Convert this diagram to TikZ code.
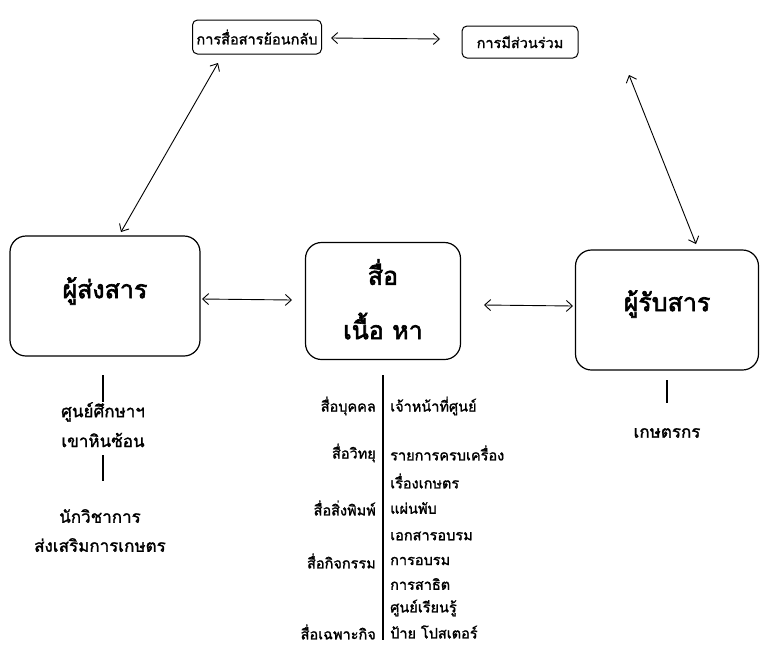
\documentclass[tikz,border=0pt]{standalone}
\usepackage{fontspec}
\newfontfamily\thai[Script=Thai,FakeBold=1.5]{Loma}
\newfontfamily\thaib[Script=Thai,FakeBold=2.5]{Loma}
\usetikzlibrary{arrows.meta}
\begin{document}
\begin{tikzpicture}[x=1pt,y=-1pt,
  every node/.style={font=\thai},
  small/.style={draw,line width=1pt,rounded corners=5pt,inner sep=0pt,font=\thai\fontsize{14.5}{16}\selectfont},
  big/.style={draw,line width=1.2pt,rounded corners=16pt,inner sep=0pt},
  lab/.style={font=\thaib\fontsize{25}{28}\selectfont},
  sub/.style={font=\thai\fontsize{17}{19}\selectfont,inner sep=0pt},
  msub/.style={font=\thai\fontsize{14.5}{17}\selectfont,inner sep=0pt},
  conn/.style={line width=0.9pt,{Straight Barb[length=6pt,width=11pt]}-{Straight Barb[length=6pt,width=11pt]}},
  tick/.style={line width=1.4pt}]
\useasboundingbox (0,0) rectangle (760,651);
% top boxes
\node[small,minimum width=129,minimum height=34] (fb) at (257,37) {การสื่อสารย้อนกลับ};
\node[small,minimum width=116,minimum height=32] (pa) at (520,42) {การมีส่วนร่วม};
% main boxes
\node[big,minimum width=190,minimum height=120] (snd) at (105,296) {};
\node[lab] (sndl) at (105,291) {ผู้ส่งสาร};
\node[big,minimum width=155,minimum height=117] (med) at (383,301) {};
\node[lab] (medl1) at (383,272) {สื่อ};
\node[lab] (medl2) at (383,326) {เนื้อ หา};
\node[big,minimum width=183,minimum height=120] (rcv) at (667,310) {};
\node[lab] (rcvl) at (667,304) {ผู้รับสาร};
% connectors
\coordinate (fbR) at (331,38); \coordinate (paL) at (440,39);
\draw[conn] (fbR) -- (paL);
\coordinate (fbB) at (218,63); \coordinate (sndT) at (121,232);
\draw[conn] (fbB) -- (sndT);
\coordinate (paB) at (629,75); \coordinate (rcvT) at (696,244);
\draw[conn] (paB) -- (rcvT);
\coordinate (sndR) at (202,299); \coordinate (medL) at (292,300);
\draw[conn] (sndR) -- (medL);
\coordinate (medR) at (484,305); \coordinate (rcvL) at (573,306);
\draw[conn] (medR) -- (rcvL);
% sender details
\coordinate (t1a) at (103,375); \coordinate (t1b) at (103,402);
\draw[tick] (t1a) -- (t1b);
\node[sub] (s1) at (103,412) {ศูนย์ศึกษาฯ};
\node[sub] (s2) at (103,440) {เขาหินซ้อน};
\coordinate (t2a) at (103,455); \coordinate (t2b) at (103,481);
\draw[tick] (t2a) -- (t2b);
\node[sub] (s3) at (100,516) {นักวิชาการ};
\node[sub] (s4) at (100,545) {ส่งเสริมการเกษตร};
% receiver details
\coordinate (t3a) at (667,380); \coordinate (t3b) at (667,403);
\draw[tick] (t3a) -- (t3b);
\node[sub] (r1) at (667,433) {เกษตรกร};
% media details
\coordinate (mla) at (383,375); \coordinate (mlb) at (383,640);
\draw[line width=1.1pt] (mla) -- (mlb);
\foreach \t/\y [count=\i] in {สื่อบุคคล/406,สื่อวิทยุ/453,สื่อสิ่งพิมพ์/508,สื่อกิจกรรม/561,สื่อเฉพาะกิจ/632}
  \node[msub,anchor=east] (ml\i) at (376,\y) {\t};
\foreach \t/\y [count=\i] in {เจ้าหน้าที่ศูนย์/406,รายการครบเครื่อง/453,เรื่องเกษตร/481,แผ่นพับ/508,เอกสารอบรม/536,การอบรม/561,การสาธิต/584,ศูนย์เรียนรู้/608,ป้าย โปสเตอร์/632}
  \node[msub,anchor=west] (mr\i) at (390,\y) {\t};
\end{tikzpicture}
\end{document}
